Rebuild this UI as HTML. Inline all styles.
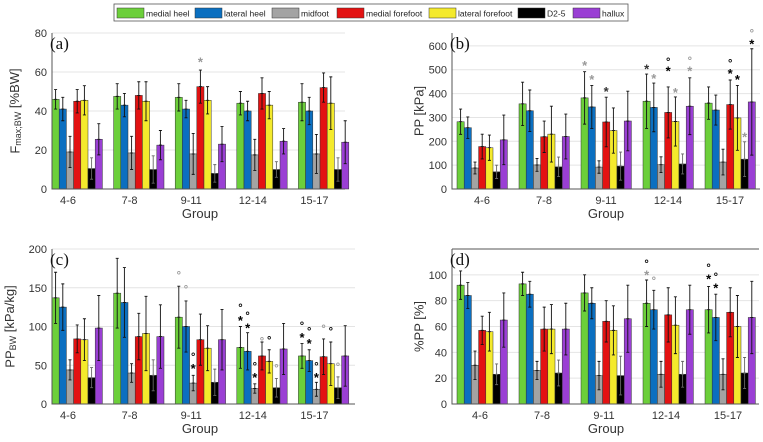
<!DOCTYPE html>
<html><head><meta charset="utf-8"><style>
html,body{margin:0;padding:0;background:#fff;}
svg{display:block;font-family:"Liberation Sans",sans-serif;}
</style></head><body>
<svg id="fig" width="763" height="442" viewBox="0 0 763 442" xmlns="http://www.w3.org/2000/svg">
<g id="legend"></g>
</svg>
<script>
const groups = ["4-6","7-8","9-11","12-14","15-17"];
const regions = ["medial heel","lateral heel","midfoot","medial forefoot","lateral forefoot","D2-5","hallux"];
const colors = ["#6ccf3a","#0b6fc0","#a3a3a3","#e31212","#f4ea2c","#000000","#9a3fd4"];
// panel (a) Fmax;BW means / upper error
const aMean = [[46,41,19,45,45.5,10.5,25.5],[47.5,43,18.5,48,45,10,22.5],[47,41,18,52.5,45.5,8,23],[44,40,17.5,49,43,10,24.5],[44.5,40,18,52,44,10,24]];
const aUp   = [[51,47,27,51,53,16,33.5],[54,49,27,55,55,17,30],[54,45.5,28.5,61,52.5,12.5,32],[50,45,25.5,57,50,14,31],[54,47,28,59.5,57.5,16,35]];
// panel (b) PP
const bMean = [[282,257,88,178,173,72,206],[357,328,101,219,230,93,220],[382,344,92,281,245,96,285],[368,342,102,321,283,105,347],[360,331,113,354,298,125,365]];
const bUp   = [[335,302,113,230,226,100,310],[448,415,128,285,347,134,314],[492,434,118,385,340,155,410],[482,444,135,428,386,147,466],[428,394,167,457,434,198,588]];
// panel (c) PP_BW
const cMean = [[137,125,44,84,83,34,98],[143,131,40,87,91,37,87],[112,100,27,83,72,28,83],[73,68,20,62,55,21,71],[62,56,19,61,52,21,62]];
const cUp   = [[170,155,57,102,110,47,140],[188,176,52,117,139,57,128],[152,133,37,116,101,45,122],[100,92,26,80,70,33,104],[78,70,28,84,80,35,101]];
// panel (d) %PP
const dMean = [[92,84,30,57,56,23,65],[93,85,26,58,58,24,58],[86,78,22,64,57,22,66],[78,73,23,69,61,23,73],[73,67,23,71,60,24,67]];
const dUp   = [[103,94,41,68,71,31,86],[102,95,33,75,77,34,78],[100,90,33,80,76,37,92],[96,88,33,90,83,33,92],[91,85,35,90,84,36,95]];
// significance markers [group, bar, value, symbol, color]
const aSig = [[2,3,66,"*","#999"]];
const bSig = [[2,0,525,"*","#999"],[2,1,465,"*","#999"],[2,3,415,"*","#333"],[3,0,510,"*","#333"],[3,1,470,"*","#999"],[3,3,500,"*","#000"],[3,3,530,"°","#000"],[3,4,410,"*","#999"],[3,6,500,"*","#999"],[3,6,535,"°","#999"],[4,3,490,"*","#000"],[4,3,525,"°","#000"],[4,4,465,"*","#000"],[4,5,225,"*","#999"],[4,6,615,"*","#000"],[4,6,650,"°","#999"]];
const cSig = [[2,0,165,"°","#999"],[2,1,147,"°","#999"],[2,2,48,"*","#000"],[2,2,60,"°","#000"],[3,0,110,"*","#000"],[3,0,123,"°","#000"],[3,1,100,"*","#000"],[3,1,113,"°","#000"],[3,2,36,"*","#000"],[3,2,48,"°","#000"],[3,3,80,"°","#999"],[3,4,81,"°","#000"],[3,5,45,"°","#999"],[4,0,88,"*","#000"],[4,0,100,"°","#000"],[4,1,80,"*","#000"],[4,1,93,"°","#000"],[4,2,36,"*","#000"],[4,2,48,"°","#000"],[4,3,96,"°","#999"],[4,4,93,"°","#000"],[4,5,47,"°","#999"]];
const dSig = [[3,0,101,"*","#999"],[3,0,108,"°","#000"],[3,1,95,"°","#999"],[4,0,98,"*","#000"],[4,0,105,"°","#000"],[4,1,91,"*","#000"],[4,1,98,"°","#000"]];

const NS="http://www.w3.org/2000/svg";
const svg=document.getElementById('fig');
function mk(tag,attrs,parent){const e=document.createElementNS(NS,tag);for(const k in attrs)e.setAttribute(k,attrs[k]);(parent||svg).appendChild(e);return e;}

const panels=[
 {id:"a",mean:aMean,up:aUp,sig:aSig,L:52,R:345,T:33,B:189,ymax:80,ticks:[0,20,40,60,80],x0:52,sp:61.6,lab:16,ylab:"F",yx:16,box:false},
 {id:"b",mean:bMean,up:bUp,sig:bSig,L:452,R:760,T:33,B:189,ymax:654,ticks:[0,100,200,300,400,500,600],x0:457,sp:62,lab:25,ylab:"PP [kPa]",yx:420,box:false},
 {id:"c",mean:cMean,up:cUp,sig:cSig,L:52,R:355,T:249,B:404,ymax:200,ticks:[0,50,100,150,200],x0:52,sp:61.6,lab:16,ylab:"PPBW",yx:11,box:false},
 {id:"d",mean:dMean,up:dUp,sig:dSig,L:452,R:759,T:249,B:404,ymax:120,ticks:[0,20,40,60,80,100],x0:457,sp:62,lab:23,ylab:"%PP [%]",yx:420,box:true}
];
const bw=7.2;
panels.forEach(p=>{
  const g=mk('g',{});
  
  
  const y=v=>p.B-(v/p.ymax)*(p.B-p.T);
  const x=(gi,bi)=>p.x0+gi*p.sp+bi*bw;
  p.ticks.forEach(t=>{
    if(t>0){const gl=mk('line',{x1:p.L,x2:p.R,y1:y(t),y2:y(t),stroke:"#e4e4e4","stroke-width":1},g);
      
      }
    const tl=mk('text',{x:p.L-5,y:y(t)+4,"text-anchor":"end","font-size":11,fill:"#333"},g);
    tl.textContent=t;
    
    
  });
  p.mean.forEach((row,gi)=>{
    row.forEach((v,bi)=>{
      const r=mk('rect',{x:x(gi,bi),y:y(v),width:bw,height:p.B-y(v),fill:colors[bi],stroke:"#333","stroke-width":0.5},g);
      
      
      const u=p.up[gi][bi], lo=Math.max(0,2*v-u), cx=x(gi,bi)+bw/2;
      const e=mk('path',{d:`M${cx},${y(lo)}V${y(u)}M${cx-1.5},${y(u)}H${cx+1.5}M${cx-1.5},${y(lo)}H${cx+1.5}M${cx-1.5},${y(v)}H${cx+1.5}`,stroke:(bi==5?"#666":"#111"),"stroke-width":0.9,fill:"none"},g);
      
      
    });
    const gl=mk('text',{x:p.x0+gi*p.sp+p.lab,y:p.B+15,"text-anchor":"middle","font-size":11,fill:"#333"},g);
    gl.textContent=groups[gi];
    
    
  });
  p.sig.forEach(s=>{
    const t=mk('text',{x:x(s[0],s[1])+bw/2,y:y(s[2])+(s[3]=="*"?6:3),"text-anchor":"middle","font-size":s[3]=="*"?13:11,"font-weight":"bold",fill:s[4]},g);
    t.textContent=s[3];
    
    
  });
  const ax=mk('path',{d:`M${p.L},${p.T}V${p.B}H${p.R}`+(p.box?`M${p.L},${p.T}H${p.R}`:""),stroke:"#555","stroke-width":1,fill:"none"},g);
  
  
  const xt=mk('text',{x:p.id=="a"||p.id=="c"?200:606,y:p.B+29,"text-anchor":"middle","font-size":13,fill:"#333"},g);
  xt.textContent="Group";
  
  
  const cy=(p.T+p.B)/2;
  const yt=mk('text',{x:p.yx,y:cy,"text-anchor":"middle","font-size":13,fill:"#333",transform:`rotate(-90 ${p.yx} ${cy})`,"dominant-baseline":"middle"},g);
  if(p.ylab=="F"){yt.innerHTML='F<tspan font-size="9" dy="3">max;BW</tspan><tspan dy="-3"> [%BW]</tspan>';}
  else if(p.ylab=="PPBW"){yt.innerHTML='PP<tspan font-size="9" dy="3">BW</tspan><tspan dy="-3"> [kPa/kg]</tspan>';}
  else yt.textContent=p.ylab;
  
  
  const pl=mk('text',{x:p.L-2,y:p.T+16,"font-family":"Liberation Serif, serif","font-size":17,fill:"#111"},g);
  pl.textContent="("+p.id+")";
  
  
});
// legend
const lg=document.getElementById('legend');
mk('rect',{x:114,y:4,width:514,height:17,fill:"#fff",stroke:"#555","stroke-width":0.8},lg);
const lx=[117,195,272,337,429,518,573];
regions.forEach((r,i)=>{
  const e=mk('g',{},lg);
  
  
  mk('rect',{x:lx[i],y:8,width:27,height:10,fill:colors[i],stroke:"#333","stroke-width":0.5},e);
  const t=mk('text',{x:lx[i]+29,y:16.5,"font-size":8.5,fill:"#222"},e);
  t.textContent=r;
});
</script>
</body></html>
